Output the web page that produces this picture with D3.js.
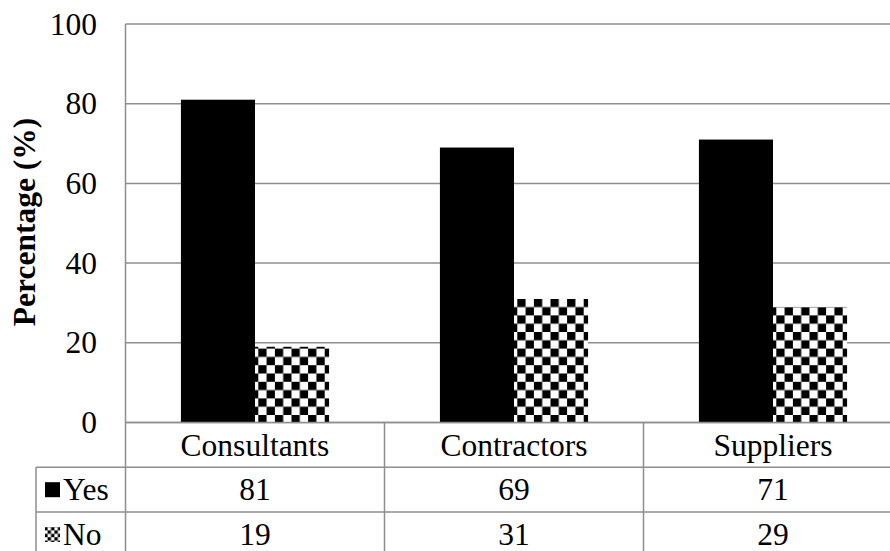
<!DOCTYPE html>
<html>
<head>
<meta charset="utf-8">
<script src="https://cdn.jsdelivr.net/npm/d3@7"></script>
<style>
  html, body { margin: 0; padding: 0; background: #fff; }
  svg { display: block; }
</style>
</head>
<body>
<svg id="chart" width="890" height="551"></svg>
<script>
const categories = ["Consultants", "Contractors", "Suppliers"];
const seriesNames = ["Yes", "No"];
const yesValues = [81, 69, 71];
const noValues = [19, 31, 29];
const yTicks = [0, 20, 40, 60, 80, 100];

const W = 890, H = 551;
const plotLeft = 125.5, plotRight = 902.5, plotTop = 24, plotBottom = 422.5;
const rowH = 44.8;
const legendLeft = 36;
const gridColor = "#8e8e8e";
const fontSize = 31.5;
const FONT = "Liberation Serif";

const svg = d3.select("#chart");
const defs = svg.append("defs");

function checker(id, cell) {
  const p = defs.append("pattern").attr("id", id)
    .attr("patternUnits", "userSpaceOnUse")
    .attr("width", cell * 2).attr("height", cell * 2);
  p.append("rect").attr("width", cell * 2).attr("height", cell * 2).attr("fill", "#fff");
  p.append("rect").attr("x", 0).attr("y", 0).attr("width", cell).attr("height", cell).attr("fill", "#000");
  p.append("rect").attr("x", cell).attr("y", cell).attr("width", cell).attr("height", cell).attr("fill", "#000");
}
checker("checkBig", 8.3);
checker("checkSmall", 3.4);

const x = d3.scaleBand().domain(categories).range([plotLeft, plotRight]).padding(0);
const bw = x.bandwidth();
const groupW = bw * 0.572;
const xs = d3.scaleBand().domain(seriesNames).range([(bw - groupW) / 2, (bw + groupW) / 2]).padding(0);
const y = d3.scaleLinear().domain([0, 100]).range([plotBottom, plotTop]);

const fills = { Yes: "#000", No: "url(#checkBig)" };
const data = categories.map((c, i) => ({ cat: c, Yes: yesValues[i], No: noValues[i] }));

function txt(sel) {
  return sel.attr("font-family", FONT).attr("font-size", fontSize).attr("fill", "#000");
}

svg.append("g").selectAll("line").data(yTicks).join("line")
  .attr("x1", plotLeft).attr("x2", W)
  .attr("y1", d => y(d)).attr("y2", d => y(d))
  .attr("stroke", gridColor).attr("stroke-width", 1.5);

txt(svg.append("g").selectAll("text").data(yTicks).join("text"))
  .attr("x", 97).attr("y", d => y(d))
  .attr("text-anchor", "end").attr("dominant-baseline", "central")
  .text(d => d);

svg.append("line").attr("x1", plotLeft).attr("x2", plotLeft)
  .attr("y1", plotTop).attr("y2", H)
  .attr("stroke", gridColor).attr("stroke-width", 1.5);

const groups = svg.append("g").selectAll("g").data(data).join("g")
  .attr("transform", d => `translate(${x(d.cat)},0)`);
groups.selectAll("rect").data(d => seriesNames.map(s => ({ s, v: d[s], cat: d.cat }))).join("rect")
  .attr("x", d => xs(d.s))
  .attr("width", xs.bandwidth())
  .attr("y", d => y(d.v))
  .attr("height", d => y(0) - y(d.v))
  .attr("fill", d => fills[d.s]);

svg.append("line").attr("x1", plotLeft).attr("x2", W)
  .attr("y1", plotBottom).attr("y2", plotBottom)
  .attr("stroke", gridColor).attr("stroke-width", 1.5);

const row1 = plotBottom + rowH, row2 = plotBottom + 2 * rowH;
[row1, row2].forEach(ry => {
  svg.append("line").attr("x1", legendLeft).attr("x2", W)
    .attr("y1", ry).attr("y2", ry)
    .attr("stroke", gridColor).attr("stroke-width", 1.5);
});
svg.append("line").attr("x1", legendLeft).attr("x2", legendLeft)
  .attr("y1", row1).attr("y2", H)
  .attr("stroke", gridColor).attr("stroke-width", 1.5);
svg.append("g").selectAll("line").data(categories.slice(1)).join("line")
  .attr("x1", d => x(d)).attr("x2", d => x(d))
  .attr("y1", plotBottom).attr("y2", H)
  .attr("stroke", gridColor).attr("stroke-width", 1.5);

txt(svg.append("g").selectAll("text").data(categories).join("text"))
  .attr("x", d => x(d) + bw / 2).attr("y", plotBottom + rowH / 2 + 1)
  .attr("text-anchor", "middle").attr("dominant-baseline", "central")
  .text(d => d);

const rows = [{ name: "Yes", vals: yesValues, y0: row1 }, { name: "No", vals: noValues, y0: row2 }];
rows.forEach(r => {
  txt(svg.append("g").selectAll("text").data(r.vals).join("text"))
    .attr("x", (d, i) => x(categories[i]) + bw / 2).attr("y", r.y0 + rowH / 2)
    .attr("text-anchor", "middle").attr("dominant-baseline", "central")
    .text(d => d);
  svg.append("rect").attr("x", 45).attr("y", r.y0 + rowH / 2 - 7.5)
    .attr("width", 15).attr("height", 15)
    .attr("fill", r.name === "Yes" ? "#000" : "url(#checkSmall)");
  txt(svg.append("text")).attr("x", 63).attr("y", r.y0 + rowH / 2)
    .attr("dominant-baseline", "central")
    .text(r.name);
});

txt(svg.append("text"))
  .attr("transform", "translate(35,222) rotate(-90)")
  .attr("text-anchor", "middle")
  .attr("font-weight", "bold")
  .text("Percentage (%)");
</script>
</body>
</html>
